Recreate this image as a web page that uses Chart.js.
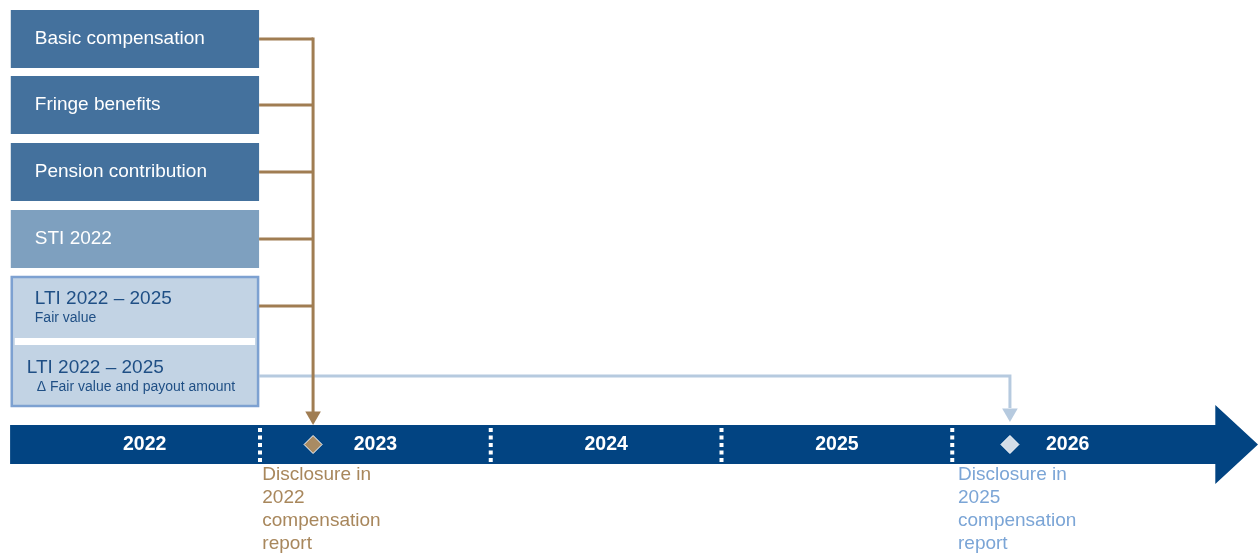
<!DOCTYPE html>
<html>
<head>
<meta charset="utf-8">
<script src="https://cdn.jsdelivr.net/npm/chart.js@4.4.1/dist/chart.umd.min.js"></script>
<style>
  html, body { margin: 0; padding: 0; background: #ffffff; }
  #wrap { width: 1258px; height: 553px; }
</style>
</head>
<body>
<div id="wrap"><canvas id="chart" width="1258" height="553"></canvas></div>
<script>
// x axis is in years (2023.0 = start of 2023), y axis is a vertical layout row (0 at top)
const years = ['2022', '2023', '2024', '2025', '2026'];
const yearCenters = [2022.5, 2023.5, 2024.5, 2025.5, 2026.5];
const yearDividers = [2023, 2024, 2025, 2026];

const components = ['Basic compensation', 'Fringe benefits', 'Pension contribution', 'STI 2022'];
const componentRows = [39, 105, 172, 239];
const componentColors = ['#44719d', '#44719d', '#44719d', '#7ea0bf'];

const ltiTitles = ['LTI 2022 – 2025', 'LTI 2022 – 2025'];
const ltiSubtitles = ['Fair value', 'Δ Fair value and payout amount'];
const ltiRows = [306, 376];

const disclosureYears = [2023.23, 2026.25];
const disclosureTextYears = [2023.01, 2026.025];
const disclosureLabels = [
  ['Disclosure in', '2022', 'compensation', 'report'],
  ['Disclosure in', '2025', 'compensation', 'report']
];

const colors = {
  bar: '#024482',
  brown: '#a07d52',
  brownText: '#a8875c',
  brownDiamond: '#a98b63',
  lightLine: '#b6cadf',
  lightDiamond: '#d3dde8',
  lightText: '#7ba5d6',
  ltiFill: '#c2d3e4',
  ltiBorder: '#7da1d1',
  ltiText: '#1f4f85'
};

const X_MIN = 2023 - 260 / 230.75;
const X_MAX = 2023 + 998 / 230.75;
const BOX_LEFT = 2021.92;
const BOX_RIGHT = 2022.996;
const BAR_TOP = 425, BAR_BOTTOM = 464, BAR_MID = 444.5;

function seg(x1, y1, x2, y2) {
  return [{ x: x1, y: y1 }, { x: x2, y: y2 }];
}

const datasets = [];

// brown connectors from the fixed components into the 2022 disclosure
componentRows.concat([ltiRows[0]]).forEach(row => {
  datasets.push({ data: seg(BOX_RIGHT, row, disclosureYears[0], row), borderColor: colors.brown,
    borderWidth: 3, showLine: true, pointRadius: 0 });
});
datasets.push({ data: seg(disclosureYears[0], componentRows[0] - 1.5, disclosureYears[0], 412), borderColor: colors.brown,
  borderWidth: 3, showLine: true, pointRadius: 0 });
datasets.push({ data: [{ x: disclosureYears[0], y: 416 }], pointStyle: 'triangle', rotation: 180,
  pointRadius: 9, backgroundColor: colors.brown, borderWidth: 0 });

// light blue connector from LTI delta into the 2025 disclosure
datasets.push({ data: [{ x: BOX_RIGHT, y: ltiRows[1] }, { x: disclosureYears[1], y: ltiRows[1] }, { x: disclosureYears[1], y: 408 }],
  borderColor: colors.lightLine, borderWidth: 3, showLine: true, pointRadius: 0 });
datasets.push({ data: [{ x: disclosureYears[1], y: 413 }], pointStyle: 'triangle', rotation: 180,
  pointRadius: 9, backgroundColor: colors.lightLine, borderWidth: 0 });

// dotted year dividers
yearDividers.forEach(yr => {
  datasets.push({ data: seg(yr, 428, yr, 463), borderColor: '#ffffff', borderWidth: 4,
    borderDash: [4, 3.5], showLine: true, pointRadius: 0 });
});

// disclosure diamonds on the timeline
datasets.push({ data: [{ x: disclosureYears[0], y: BAR_MID }], pointStyle: 'rectRot', pointRadius: 9,
  backgroundColor: colors.brownDiamond, borderColor: '#ffffff', borderWidth: 1 });
datasets.push({ data: [{ x: disclosureYears[1], y: BAR_MID }], pointStyle: 'rectRot', pointRadius: 9,
  backgroundColor: colors.lightDiamond, borderColor: '#ffffff', borderWidth: 1 });

const diagramPlugin = {
  id: 'diagram',
  beforeDatasetsDraw(chart) {
    const { ctx, scales: { x, y } } = chart;
    ctx.save();
    // timeline arrow
    ctx.fillStyle = colors.bar;
    ctx.beginPath();
    ctx.moveTo(x.getPixelForValue(2021.917), y.getPixelForValue(BAR_TOP));
    ctx.lineTo(x.getPixelForValue(2027.14), y.getPixelForValue(BAR_TOP));
    ctx.lineTo(x.getPixelForValue(2027.14), y.getPixelForValue(405));
    ctx.lineTo(x.getPixelForValue(X_MAX), y.getPixelForValue(BAR_MID));
    ctx.lineTo(x.getPixelForValue(2027.14), y.getPixelForValue(484));
    ctx.lineTo(x.getPixelForValue(2027.14), y.getPixelForValue(BAR_BOTTOM));
    ctx.lineTo(x.getPixelForValue(2021.917), y.getPixelForValue(BAR_BOTTOM));
    ctx.closePath();
    ctx.fill();

    const left = x.getPixelForValue(BOX_LEFT);
    const right = x.getPixelForValue(BOX_RIGHT);

    // component boxes
    components.forEach((name, i) => {
      const top = y.getPixelForValue(componentRows[i] - 29);
      const bottom = y.getPixelForValue(componentRows[i] + 29);
      ctx.fillStyle = componentColors[i];
      ctx.fillRect(left, top, right - left, bottom - top);
    });

    // LTI group box
    const gTop = y.getPixelForValue(276), gBottom = y.getPixelForValue(407);
    ctx.fillStyle = colors.ltiFill;
    ctx.fillRect(left, gTop, right - left, gBottom - gTop);
    ctx.fillStyle = '#ffffff';
    ctx.fillRect(left + 4, y.getPixelForValue(338), right - left - 8, 7);
    ctx.strokeStyle = colors.ltiBorder;
    ctx.lineWidth = 2.5;
    ctx.strokeRect(left + 1, gTop + 1, right - left - 2, gBottom - gTop - 2);
    ctx.restore();
  },
  afterDatasetsDraw(chart) {
    const { ctx, scales: { x, y } } = chart;
    ctx.save();
    ctx.textBaseline = 'middle';
    const font = "'Liberation Sans', Arial, sans-serif";

    // component labels
    ctx.fillStyle = '#ffffff';
    ctx.font = '19px ' + font;
    components.forEach((name, i) => {
      ctx.fillText(name, x.getPixelForValue(BOX_LEFT) + 24, y.getPixelForValue(componentRows[i]));
    });

    // LTI labels
    ctx.fillStyle = colors.ltiText;
    ctx.font = '19px ' + font;
    ctx.fillText(ltiTitles[0], x.getPixelForValue(BOX_LEFT) + 24, y.getPixelForValue(299));
    ctx.fillText(ltiTitles[1], x.getPixelForValue(BOX_LEFT) + 16, y.getPixelForValue(368));
    ctx.font = '14px ' + font;
    ctx.fillText(ltiSubtitles[0], x.getPixelForValue(BOX_LEFT) + 24, y.getPixelForValue(318));
    ctx.fillText(ltiSubtitles[1], x.getPixelForValue(BOX_LEFT) + 26, y.getPixelForValue(387));

    // year labels
    ctx.fillStyle = '#ffffff';
    ctx.font = 'bold 19.5px ' + font;
    ctx.textAlign = 'center';
    years.forEach((yr, i) => {
      ctx.fillText(yr, x.getPixelForValue(yearCenters[i]), y.getPixelForValue(BAR_MID));
    });

    // disclosure notes
    ctx.textAlign = 'left';
    ctx.font = '19px ' + font;
    const noteColors = [colors.brownText, colors.lightText];
    disclosureLabels.forEach((lines, i) => {
      ctx.fillStyle = noteColors[i];
      const nx = x.getPixelForValue(disclosureTextYears[i]);
      lines.forEach((line, j) => {
        ctx.fillText(line, nx, y.getPixelForValue(475 + j * 23));
      });
    });
    ctx.restore();
  }
};

new Chart(document.getElementById('chart'), {
  type: 'scatter',
  data: { datasets },
  options: {
    responsive: false,
    animation: false,
    layout: { padding: 0, autoPadding: false },
    plugins: { legend: { display: false }, tooltip: { enabled: false } },
    scales: {
      x: { type: 'linear', min: X_MIN, max: X_MAX, display: false },
      y: { type: 'linear', min: 0, max: 553, reverse: true, display: false }
    }
  },
  plugins: [diagramPlugin]
});
</script>
</body>
</html>
